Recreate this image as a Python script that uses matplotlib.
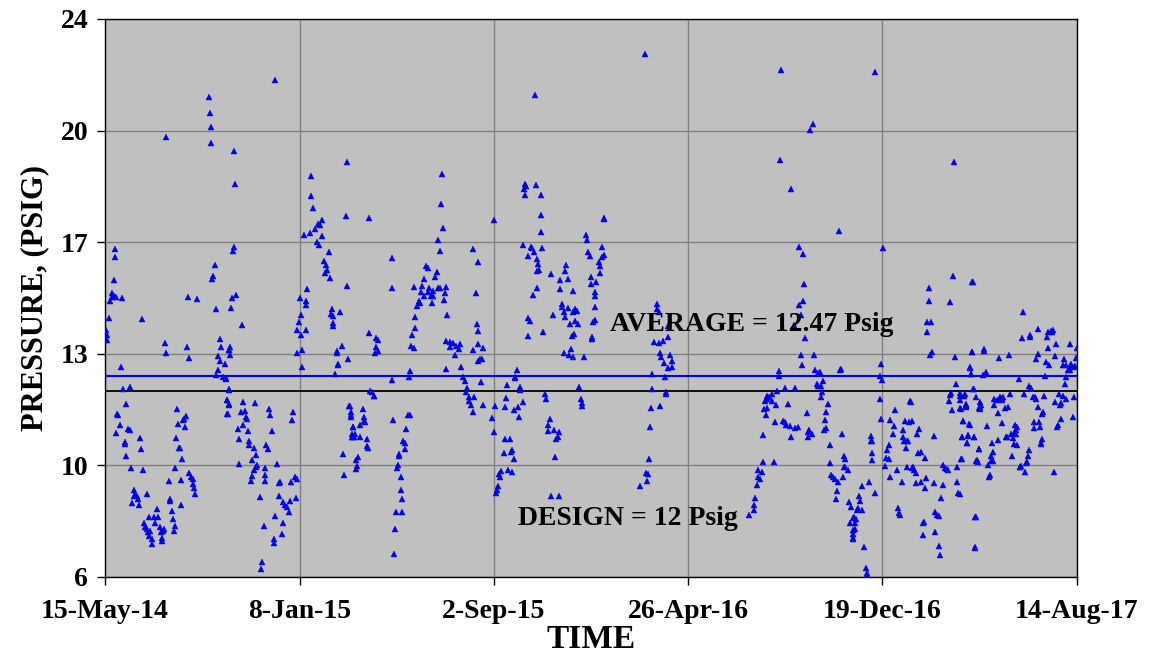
import datetime as dt
import matplotlib
matplotlib.use('Agg')
import matplotlib.pyplot as plt
import matplotlib.dates as mdates

plt.rcParams['font.family'] = 'Liberation Serif'
plt.rcParams['font.weight'] = 'bold'

START = dt.date(2014, 5, 15)
END = dt.date(2017, 8, 14)
TICK_DATES = [dt.date(2014, 5, 15), dt.date(2015, 1, 8), dt.date(2015, 9, 2),
              dt.date(2016, 4, 26), dt.date(2016, 12, 19), dt.date(2017, 8, 14)]
Y_TICKS = [6, 9.6, 13.2, 16.8, 20.4, 24]
DESIGN = 12
AVERAGE = 12.47

# readings: (days since 15-May-14, pressure psig)
readings_2014a = [
    (127, 21.47), (128, 20.97), (129, 20.53), (130, 19.99), (74, 20.19),
    (12, 16.58), (12, 16.32), (11, 15.58), (9, 15.15), (11, 15.06), (8, 15.03), (6, 14.91), (13, 15.03),
    (21, 14.99), (5, 14.35), (1, 13.96), (3, 13.79), (2, 13.65), (45, 14.32), (101, 15.04), (112, 14.97),
    (134, 16.07), (132, 15.70), (131, 15.62), (135, 14.64), (73, 13.55), (75, 13.23), (100, 13.43), (102, 13.08),
    (141, 13.68), (142, 13.42), (138, 13.12), (140, 12.97), (146, 12.88), (151, 13.32), (153, 13.42),
    (136, 12.50), (138, 12.68), (144, 12.44), (148, 12.41), (151, 12.03), (149, 11.70), (151, 11.58), (149, 11.27),
    (20, 12.76), (22, 12.07), (31, 12.12), (26, 11.58), (16, 11.21), (15, 11.27), (18, 10.91), (14, 10.64),
    (28, 10.77), (30, 10.74), (24, 10.36), (25, 10.29), (26, 9.89), (32, 9.50), (43, 10.47), (44, 10.13), (47, 9.46),
    (35, 8.82), (35, 8.62), (37, 8.64), (39, 8.60), (33, 8.38), (40, 8.50), (42, 8.33), (51, 8.68),
    (48, 7.73), (49, 7.62), (51, 7.56), (53, 7.45), (55, 7.47), (57, 7.21), (58, 7.07), (54, 7.33),
    (54, 7.95), (60, 7.94), (64, 8.19), (65, 7.94), (61, 7.74), (67, 7.62), (68, 7.45), (70, 7.27), (71, 7.47),
    (72, 7.56), (70, 7.17), (79, 8.50), (79, 8.46), (82, 8.12), (83, 7.88), (85, 7.66), (84, 7.48), (93, 8.33),
    (78, 9.09), (86, 9.53), (93, 9.13), (88, 11.41), (99, 11.18), (96, 11.11), (95, 11.07), (89, 10.93),
    (98, 10.85), (87, 10.48), (90, 10.17), (92, 10.15), (94, 9.82),
    (103, 9.35), (105, 9.21), (107, 9.17), (108, 9.01), (109, 8.86), (110, 8.68),
]

readings_2014b = [
    (208, 22.02), (158, 19.74), (159, 18.67), (157, 16.64), (156, 16.50), (160, 15.09), (155, 14.99), (154, 14.68),
    (167, 14.12), (152, 13.32), (153, 13.15),
    (148, 12.38), (151, 12.05), (149, 11.71), (151, 11.56), (150, 11.27),
    (169, 11.65), (166, 11.32), (171, 11.35), (183, 11.60), (172, 11.15), (173, 11.09), (169, 10.91), (163, 10.76),
    (164, 10.44), (175, 10.70), (176, 10.39), (176, 10.27), (164, 9.64),
    (200, 11.42), (201, 11.21), (204, 10.70),
    (182, 10.15), (185, 9.94), (180, 9.77), (186, 9.62), (184, 9.56), (182, 9.44), (179, 9.27), (178, 9.11),
    (197, 10.27), (199, 10.13), (195, 9.50), (196, 9.30), (195, 9.09), (210, 9.64), (189, 8.59),
    (212, 9.03), (214, 9.07), (213, 8.60), (218, 8.41), (220, 8.33), (222, 8.27), (225, 8.09), (226, 8.46),
    (233, 8.56), (232, 9.23), (234, 9.15), (227, 9.07),
    (208, 7.97), (218, 7.74), (216, 7.39), (206, 7.21), (206, 7.09), (194, 7.66), (192, 6.47), (190, 6.27),
    (228, 11.07), (230, 11.33),
    (238, 14.99), (239, 14.44), (237, 14.24), (235, 13.97), (239, 13.82), (245, 13.96), (234, 13.23),
    (241, 13.32), (240, 12.76), (247, 15.30), (246, 14.91), (246, 14.76),
    (243, 17.03), (250, 17.11), (254, 17.91), (252, 18.30), (252, 18.93), (257, 17.23), (259, 16.82),
    (261, 16.71), (265, 17.50), (263, 17.34), (265, 16.99), (260, 17.38), (273, 16.47), (268, 16.19),
    (270, 16.05), (271, 15.91), (269, 15.82), (275, 15.66), (277, 14.66), (276, 14.48), (278, 14.41),
    (278, 14.19), (279, 14.09), (287, 14.56), (296, 15.38), (294, 17.64), (295, 19.38), (283, 13.30),
    (283, 13.21), (289, 13.46), (297, 13.02), (284, 12.88), (285, 12.84), (281, 12.56),
    (298, 11.50), (300, 11.32), (301, 11.15), (303, 10.85), (302, 10.62), (303, 10.50), (291, 9.97), (292, 9.30),
]

readings_2015a = [
    (412, 19.01), (410, 18.03), (413, 17.25), (322, 17.59), (351, 16.29), (351, 15.32), (407, 16.87), (409, 16.51),
    (450, 16.58), (455, 16.15), (453, 15.15), (454, 14.17), (456, 13.93), (456, 13.52), (449, 13.32), (456, 12.97),
    (392, 16.03), (389, 15.62), (394, 15.97), (387, 15.38), (405, 15.85), (403, 15.68), (407, 15.32),
    (401, 15.23), (396, 15.32), (398, 15.06), (399, 14.85), (400, 15.06), (395, 15.20), (409, 15.32),
    (416, 15.35), (415, 15.15), (414, 14.95), (377, 15.35), (386, 15.20), (389, 15.05), (383, 14.91),
    (385, 14.85), (381, 14.73), (379, 14.40), (378, 14.03), (375, 13.82), (374, 13.44), (377, 13.38),
    (418, 14.44), (417, 13.62), (421, 13.58), (421, 13.42), (425, 13.56), (429, 13.44), (432, 13.35),
    (434, 13.50), (427, 13.15), (417, 12.71), (435, 12.76), (437, 12.44), (440, 12.32), (442, 12.09),
    (441, 11.97), (444, 11.82), (445, 11.68), (447, 11.56), (449, 11.32), (451, 11.80),
    (350, 12.35), (372, 12.64), (371, 12.44), (324, 12.01), (326, 11.97), (328, 11.85), (329, 11.85),
    (323, 13.88), (331, 13.70), (333, 13.64), (331, 13.42), (333, 13.30), (330, 13.21),
    (299, 11.50), (301, 11.21), (303, 10.83), (305, 10.62), (302, 10.50), (304, 10.53), (311, 10.53),
    (312, 10.91), (315, 11.42), (316, 11.15), (316, 11.03), (318, 11.00), (320, 10.44), (321, 10.17),
    (320, 10.24), (307, 9.77), (308, 9.58), (309, 9.86), (307, 9.49),
    (352, 11.07), (368, 10.77), (370, 11.21), (372, 11.21), (364, 10.38), (366, 10.32), (367, 10.13),
    (359, 9.97), (359, 9.89), (358, 9.62), (357, 9.50), (362, 9.23), (361, 8.80), (363, 8.50), (356, 8.09),
    (363, 8.09), (354, 7.56), (353, 6.74),
]

readings_2015b = [
    (525, 21.55), (513, 18.67), (514, 18.61), (512, 18.50), (513, 18.32), (526, 18.64), (533, 18.32),
    (532, 17.67), (532, 17.12), (475, 17.52),
    (511, 16.70), (520, 16.66), (522, 16.62), (524, 16.47), (516, 16.35), (528, 16.26), (529, 16.09),
    (530, 15.91), (528, 15.87), (534, 16.62), (545, 15.77), (527, 15.32), (523, 15.11),
    (516, 14.36), (519, 14.26), (517, 13.77), (535, 13.91), (547, 14.44),
    (563, 16.05), (562, 15.87), (556, 15.59), (565, 15.62), (571, 15.24), (556, 15.30), (558, 14.82),
    (558, 14.71), (561, 14.56), (562, 14.40), (566, 14.67), (571, 14.56), (574, 14.64), (576, 14.59),
    (574, 14.26), (578, 14.15), (568, 14.15), (570, 13.77), (573, 13.84), (569, 13.35), (567, 13.15),
    (572, 13.11), (560, 13.21), (585, 13.11), (587, 17.03), (589, 16.87), (590, 16.47), (592, 16.36),
    (607, 16.65), (609, 16.40), (607, 16.32), (603, 16.15), (605, 16.03), (604, 15.82), (593, 15.68),
    (594, 15.46), (600, 15.50), (599, 15.20), (598, 15.06), (599, 14.71), (598, 14.29), (596, 14.21),
    (595, 13.73), (595, 13.68), (609, 17.59), (579, 12.12), (581, 11.74), (582, 11.62), (583, 11.50),
    (462, 13.38), (458, 13.03), (460, 13.03), (459, 12.29), (462, 11.56),
    (503, 12.68), (501, 12.46), (501, 12.41), (507, 12.12), (507, 12.03), (491, 12.19), (490, 11.77),
    (489, 11.48), (476, 11.52), (473, 11.12), (475, 10.68), (510, 11.64), (505, 11.48), (500, 11.38),
    (506, 11.17), (488, 10.44), (495, 10.44), (487, 9.99), (497, 10.09), (496, 10.03), (499, 9.82),
    (481, 9.33), (484, 9.42), (483, 9.21), (492, 9.44), (497, 9.39), (480, 8.95), (479, 8.80), (478, 8.71),
    (537, 11.91), (538, 11.74), (543, 11.09), (541, 10.91), (541, 10.71), (548, 10.74), (554, 10.68),
    (553, 10.50), (551, 10.44), (549, 9.88), (545, 8.60), (554, 8.62),
]

readings_2016a = [
    (610, 17.56), (659, 22.87),
    (674, 14.79), (674, 14.64), (676, 14.56), (670, 13.58), (677, 13.56), (682, 13.62), (688, 13.73),
    (687, 14.09), (678, 13.23), (679, 13.09), (690, 13.15), (692, 12.97), (683, 12.91), (687, 12.73),
    (692, 12.76), (668, 12.56), (684, 12.44), (668, 12.07), (685, 11.97), (685, 11.91), (667, 11.44),
    (678, 11.50), (665, 10.83), (664, 9.80), (661, 9.35), (663, 9.33), (662, 9.09), (653, 8.95),
]

readings_2016b = [
    (826, 22.34), (861, 20.43), (865, 20.61), (824, 19.46), (838, 18.52), (848, 16.66), (852, 16.42),
    (854, 15.46), (852, 14.91), (847, 14.77), (850, 14.44), (841, 14.12), (855, 13.70), (850, 13.16),
    (866, 13.16), (851, 12.85), (823, 12.65), (823, 12.48), (867, 12.68), (871, 12.59), (873, 12.62),
    (899, 12.71), (898, 12.68), (896, 17.17),
    (869, 12.21), (871, 12.17), (875, 12.15), (877, 12.32), (874, 11.79), (876, 11.97), (883, 11.58),
    (881, 11.32), (879, 11.07), (880, 10.80), (878, 10.74),
    (830, 12.09), (843, 12.09), (821, 12.01), (808, 11.85), (809, 11.74), (811, 11.79), (814, 11.91),
    (814, 11.68), (806, 11.68), (808, 11.44), (805, 11.42), (807, 11.21), (819, 11.54), (834, 11.58),
    (857, 11.30), (818, 11.00), (828, 11.03), (830, 11.00), (832, 10.91), (836, 10.88), (843, 10.82),
    (846, 10.85), (838, 10.53), (860, 10.73), (859, 10.68), (864, 10.62), (858, 10.52), (804, 10.58),
    (803, 9.70), (817, 9.70), (797, 9.44), (802, 9.39), (798, 9.21), (800, 9.15), (796, 8.97), (794, 8.56),
    (793, 8.33), (792, 8.17), (787, 8.01),
    (900, 10.62), (903, 9.91), (904, 9.80), (904, 9.56), (902, 9.56), (907, 9.44), (886, 9.68), (887, 9.30),
    (889, 9.23), (891, 9.15), (895, 9.07), (894, 8.77), (893, 8.53), (901, 9.21), (909, 8.41), (911, 8.27),
    (914, 7.91), (910, 7.74), (913, 7.50), (914, 7.27), (885, 10.27),
]

readings_2017a = [
    (940, 22.29), (1037, 19.38), (950, 16.62),
    (1006, 15.32), (1006, 14.91), (1004, 14.24), (1009, 14.23), (1004, 13.91), (1010, 13.26), (1007, 13.15),
    (1036, 15.70), (1032, 14.88), (1059, 15.52), (1038, 13.11), (1059, 13.26), (1057, 12.74), (1058, 12.56),
    (948, 12.88), (946, 12.48), (949, 12.35), (947, 11.74), (948, 11.09),
    (1039, 12.23), (1032, 11.88), (1033, 11.92), (1044, 11.85), (1050, 11.91), (1031, 11.68), (1035, 11.38),
    (1044, 11.70), (1052, 11.58), (1052, 11.50), (1045, 11.41), (1061, 12.05), (1064, 11.79), (1067, 11.44),
    (1048, 11.03), (1047, 10.50), (1054, 10.59), (1061, 10.50), (1053, 10.32), (1067, 10.13), (1064, 9.74),
    (1046, 9.82), (1040, 9.54), (1024, 9.62), (1028, 9.47), (1026, 9.53), (1030, 9.44), (1041, 9.07),
    (1042, 8.71), (1023, 8.97), (1021, 8.56), (1016, 7.99), (1014, 8.09), (1019, 7.97), (1014, 7.45),
    (1019, 7.01), (1020, 6.72), (1064, 7.92), (1062, 6.96),
    (983, 11.68), (984, 11.65), (965, 11.38), (959, 11.07), (963, 10.88), (962, 10.62), (957, 10.27),
    (955, 10.09), (954, 9.85), (952, 9.58), (958, 9.82), (977, 11.03), (982, 11.00), (985, 11.03),
    (974, 10.74), (975, 10.50), (979, 10.38), (976, 10.38), (981, 10.38), (978, 10.17), (994, 10.76),
    (992, 10.60), (996, 10.03), (993, 10.00), (1002, 9.85), (1012, 10.56), (987, 9.56), (980, 9.54),
    (988, 9.44), (986, 9.50), (990, 9.35), (967, 9.44), (959, 9.21), (973, 9.06), (991, 9.03), (997, 9.06),
    (1003, 9.19), (1001, 8.88), (1012, 9.03), (968, 8.24), (970, 8.06), (971, 8.01), (999, 7.74),
    (1000, 7.78), (999, 7.35), (937, 10.38), (935, 10.38), (936, 10.54), (937, 10.01), (937, 9.77),
    (933, 9.07), (940, 8.71), (924, 8.95), (921, 8.60), (922, 8.44), (920, 8.24), (925, 8.17), (918, 8.15),
    (917, 7.88), (915, 7.92), (916, 7.74), (916, 7.56), (913, 7.39), (914, 7.21), (927, 6.97), (929, 6.30),
    (930, 6.13), (931, 6.07),
]

readings_2017b = [
    (1060, 15.52), (1121, 14.56),
    (1120, 13.70), (1130, 13.73), (1130, 13.82), (1139, 14.01), (1151, 13.73), (1152, 13.91), (1155, 13.93),
    (1157, 13.91), (1158, 13.96), (1152, 13.38), (1162, 13.50), (1179, 13.50), (1187, 13.38), (1059, 13.26),
    (1073, 13.35), (1074, 13.30), (1092, 13.06), (1104, 13.15), (1139, 13.18), (1137, 13.03), (1160, 13.12),
    (1149, 12.95), (1153, 12.83), (1171, 13.03), (1174, 12.83), (1186, 13.06), (1170, 12.85), (1178, 12.79),
    (1180, 12.88), (1185, 12.79), (1183, 12.76), (1178, 12.68), (1176, 12.68), (1056, 12.76), (1058, 12.56),
    (1076, 12.62), (1072, 12.50), (1116, 12.38), (1148, 12.48), (1174, 12.44), (1172, 12.24), (1128, 12.17),
    (1131, 12.09), (1060, 12.05),
    (1044, 11.94), (1049, 11.85), (1051, 11.56), (1052, 11.47), (1044, 11.44), (1048, 11.03), (1055, 10.95),
    (1056, 10.91), (1047, 10.50), (1054, 10.56), (1061, 10.50), (1053, 10.33), (1068, 11.65), (1070, 11.56),
    (1069, 11.42), (1069, 11.49), (1086, 11.74), (1089, 11.70), (1093, 11.82), (1095, 11.77), (1095, 11.70),
    (1097, 11.82), (1086, 11.56), (1099, 11.44), (1103, 11.47), (1105, 11.91), (1091, 11.30), (1096, 10.97),
    (1077, 10.88), (1067, 10.13), (1065, 9.77), (1066, 9.70), (1047, 9.80), (1083, 10.33), (1090, 10.41),
    (1100, 10.53), (1102, 10.53), (1107, 10.60), (1110, 10.65), (1113, 10.74), (1114, 10.83), (1111, 10.91),
    (1113, 10.62), (1109, 10.47), (1110, 10.29), (1114, 10.27), (1108, 9.91), (1084, 10.03), (1082, 9.91),
    (1085, 9.74), (1082, 9.74), (1078, 9.62), (1081, 9.30), (1080, 9.21), (1117, 9.56), (1119, 9.58),
    (1117, 9.54), (1126, 9.70), (1127, 9.89), (1128, 10.09), (1125, 9.68), (1124, 9.38), (1122, 11.89),
    (1133, 11.82), (1137, 11.74), (1136, 11.79), (1147, 11.85), (1140, 11.48), (1145, 11.32), (1144, 11.27),
    (1134, 10.80), (1135, 11.00), (1141, 11.00), (1142, 10.85), (1144, 10.44), (1143, 10.33), (1143, 10.29),
    (1160, 11.65), (1165, 11.91), (1170, 11.85), (1167, 11.62), (1166, 11.56), (1174, 11.74), (1183, 11.82),
    (1168, 11.11), (1164, 10.91), (1163, 10.85), (1182, 11.17), (1159, 9.38), (1062, 7.92), (1062, 6.95),
    (1044, 8.68),
]

alle = (readings_2014a + readings_2014b + readings_2015a + readings_2015b
        + readings_2016a + readings_2016b + readings_2017a + readings_2017b)
tarihler = [START + dt.timedelta(days=d) for d, _ in alle]
basinc = [p for _, p in alle]

fig = plt.figure(figsize=(11.6, 6.61), dpi=100)
ax = fig.add_axes([0.0905, 0.1271, 0.8379, 0.8442])
ax.set_facecolor('#C0C0C0')

ax.axhline(AVERAGE, color='#0000FF', lw=1.5, zorder=2)
ax.axhline(DESIGN, color='black', lw=1.3, zorder=2)
ax.plot(tarihler, basinc, ls='none', marker='^', ms=4.4, color='#0000FF',
        mec='#0000CC', mew=0.3, zorder=3)

ax.set_xlim(START, END)
ax.set_ylim(6, 24)
ax.set_xticks([mdates.date2num(d) for d in TICK_DATES])
ax.set_xticklabels([f"{d.day}-{d:%b-%y}" for d in TICK_DATES])
ax.set_yticks(Y_TICKS)
ax.set_yticklabels([f"{v:.0f}" for v in Y_TICKS])

ax.grid(True, color='#808080', lw=1)
ax.set_axisbelow(True)
for s in ax.spines.values():
    s.set_color('black')
    s.set_linewidth(1)
ax.tick_params(direction='out', length=6, width=1, labelsize=20, pad=6)
ax.tick_params(axis='x', pad=10)

# Etiketler
ax.text(START + dt.timedelta(days=790), 14.16, f'AVERAGE = {AVERAGE} Psig',
        ha='center', va='center', fontsize=20, fontweight='bold')
ax.text(START + dt.timedelta(days=639), 7.9, f'DESIGN = {DESIGN} Psig',
        ha='center', va='center', fontsize=20, fontweight='bold')

ax.set_xlabel('TIME', fontsize=24, fontweight='bold', labelpad=0)
ax.set_ylabel('PRESSURE, (PSIG)', fontsize=22, fontweight='bold', labelpad=8)

fig.savefig('out.png', dpi=100)
